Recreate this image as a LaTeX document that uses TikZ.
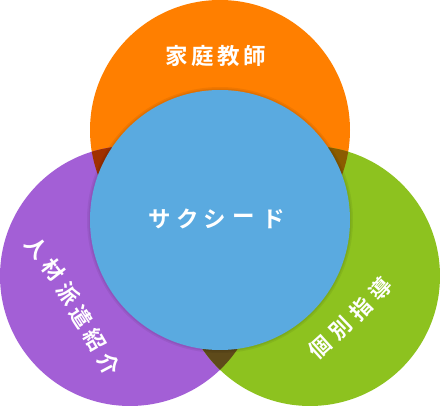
\documentclass[tikz,border=0pt]{standalone}
\usepackage{fontspec}
\newfontfamily\jp{Noto Sans CJK JP}[BoldFont={Noto Sans CJK JP Bold}]
\definecolor{corange}{RGB}{255,127,0}
\definecolor{cblue}{RGB}{90,170,224}
\definecolor{cpurple}{RGB}{163,95,214}
\definecolor{cgreen}{RGB}{141,194,31}
\definecolor{cop}{RGB}{160,48,0}
\definecolor{cog}{RGB}{139,92,0}
\definecolor{cpg}{RGB}{94,74,26}
\tikzset{
  lbl/.style={text=white,font=\jp\bfseries\fontsize{21.5}{21.5}\selectfont,inner sep=0pt,anchor=center},
  big/.style={text=white,font=\jp\bfseries\fontsize{22.5}{22.5}\selectfont,inner sep=0pt,anchor=center}
}
\begin{document}
\begin{tikzpicture}[x=1pt,y=-1pt]
\useasboundingbox (0,0) rectangle (440,406);
\coordinate (cO) at (220,130);
\coordinate (cP) at (130,276);
\coordinate (cG) at (310,276);
\coordinate (cB) at (220,220);
\fill[corange] (cO) circle[radius=130pt];
\fill[cpurple] (cP) circle[radius=130pt];
\fill[cgreen] (cG) circle[radius=130pt];
\begin{scope}
  \clip (cO) circle[radius=130pt];
  \fill[cop] (cP) circle[radius=130pt];
  \fill[cog] (cG) circle[radius=130pt];
\end{scope}
\begin{scope}
  \clip (cP) circle[radius=130pt];
  \fill[cpg] (cG) circle[radius=130pt];
\end{scope}
\fill[black,opacity=0.06] (cB) circle[radius=133pt];
\fill[black,opacity=0.06] (cB) circle[radius=131.5pt];
\fill[cblue] (cB) circle[radius=130pt];
% top label
\node[big] (t1) at (177,56) {家};
\node[big] (t2) at (203,56) {庭};
\node[big] (t3) at (229,56) {教};
\node[big] (t4) at (255,56) {師};
% center label
\node[big] (c1) at (160,219) {サ};
\node[big] (c2) at (188,219) {ク};
\node[big] (c3) at (215,219) {シ};
\node[big] (c4) at (244,219) {ー};
\node[big] (c5) at (274,219) {ド};
% left label
\node[lbl,rotate=-50] (l1) at (37,248) {人};
\node[lbl,rotate=-52] (l2) at (54,270) {材};
\node[lbl,rotate=-55] (l3) at (68,294) {派};
\node[lbl,rotate=-57] (l4) at (81,317) {遣};
\node[lbl,rotate=-60] (l5) at (95,340) {紹};
\node[lbl,rotate=-62] (l6) at (109,364) {介};
% right label
\node[lbl,rotate=42] (r1) at (320,347) {個};
\node[lbl,rotate=44] (r2) at (341,328) {別};
\node[lbl,rotate=46] (r3) at (361,309) {指};
\node[lbl,rotate=48] (r4) at (381,289) {導};
\end{tikzpicture}
\end{document}
